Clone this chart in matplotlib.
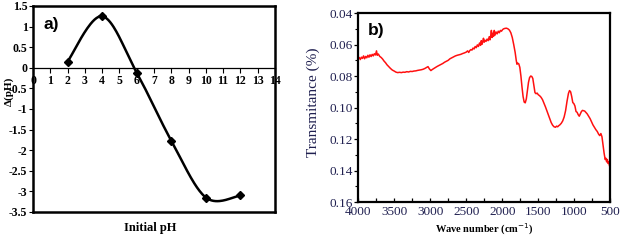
import numpy as np
import matplotlib
matplotlib.use("Agg")
import matplotlib.pyplot as plt
from matplotlib.ticker import MultipleLocator

# ---------------- Data ----------------
ph_initial = [2, 4, 6, 8, 10, 12]
delta_ph = [0.15, 1.25, -0.12, -1.77, -3.15, -3.10]

wavenumber = [4000, 3985, 3970, 3955, 3940, 3925, 3910, 3895, 3880, 3865, 3850, 3835, 3820, 3805,
              3790, 3775, 3760, 3745, 3735, 3720, 3700, 3680, 3660, 3640, 3620, 3600, 3575, 3550,
              3525, 3500, 3475, 3450, 3425, 3400, 3375, 3350, 3325, 3300, 3275, 3250, 3225, 3200,
              3175, 3150, 3125, 3100, 3075, 3050, 3030, 3010, 2990, 2970, 2950, 2925, 2900, 2875,
              2850, 2825, 2800, 2775, 2750, 2725, 2700, 2675, 2650, 2625, 2600, 2575, 2550, 2525,
              2500, 2480, 2465, 2450, 2435, 2420, 2405, 2390, 2375, 2360, 2345, 2330, 2315, 2300,
              2290, 2280, 2270, 2260, 2250, 2240, 2225, 2210, 2195, 2180, 2170, 2160, 2150, 2140,
              2130, 2120, 2110, 2100, 2085, 2070, 2055, 2040, 2025, 2010, 1995, 1980, 1960, 1940,
              1920, 1900, 1880, 1860, 1840, 1820, 1805, 1795, 1785, 1770, 1755, 1740, 1725, 1710,
              1695, 1680, 1665, 1650, 1635, 1620, 1605, 1590, 1575, 1560, 1545, 1530, 1515, 1500,
              1480, 1460, 1440, 1420, 1400, 1380, 1360, 1340, 1320, 1300, 1280, 1260, 1245, 1230,
              1215, 1200, 1180, 1160, 1140, 1120, 1100, 1080, 1065, 1050, 1035, 1020, 1005, 990,
              975, 960, 945, 930, 915, 900, 885, 870, 855, 840, 820, 800, 780, 760, 740, 720, 700,
              680, 660, 645, 630, 615, 600, 585, 570, 560, 550, 540, 530, 520, 510, 500]
transmittance = [0.0690, 0.0682, 0.0695, 0.0680, 0.0688, 0.0672, 0.0690, 0.0675, 0.0684, 0.0668,
                 0.0680, 0.0665, 0.0676, 0.0662, 0.0672, 0.0658, 0.0666, 0.0640, 0.0668, 0.0660,
                 0.0675, 0.0682, 0.0692, 0.0705, 0.0715, 0.0728, 0.0740, 0.0752, 0.0762, 0.0768,
                 0.0775, 0.0778, 0.0776, 0.0778, 0.0775, 0.0776, 0.0772, 0.0774, 0.0770, 0.0771,
                 0.0768, 0.0767, 0.0764, 0.0762, 0.0760, 0.0757, 0.0752, 0.0745, 0.0740, 0.0755,
                 0.0765, 0.0758, 0.0752, 0.0745, 0.0738, 0.0732, 0.0726, 0.0720, 0.0712, 0.0706,
                 0.0700, 0.0690, 0.0684, 0.0678, 0.0672, 0.0668, 0.0665, 0.0662, 0.0657, 0.0653,
                 0.0648, 0.0640, 0.0650, 0.0638, 0.0632, 0.0635, 0.0622, 0.0628, 0.0612, 0.0620,
                 0.0602, 0.0612, 0.0590, 0.0605, 0.0575, 0.0598, 0.0582, 0.0560, 0.0585, 0.0572,
                 0.0580, 0.0565, 0.0575, 0.0550, 0.0570, 0.0545, 0.0510, 0.0555, 0.0528, 0.0548,
                 0.0510, 0.0540, 0.0520, 0.0532, 0.0515, 0.0525, 0.0510, 0.0515, 0.0505, 0.0500,
                 0.0497, 0.0496, 0.0500, 0.0508, 0.0525, 0.0555, 0.0600, 0.0650, 0.0700, 0.0725,
                 0.0718, 0.0722, 0.0745, 0.0800, 0.0870, 0.0930, 0.0965, 0.0970, 0.0945, 0.0890,
                 0.0840, 0.0810, 0.0800, 0.0802, 0.0815, 0.0860, 0.0905, 0.0912, 0.0908, 0.0918,
                 0.0925, 0.0935, 0.0950, 0.0972, 0.0995, 0.1020, 0.1045, 0.1070, 0.1095, 0.1112,
                 0.1122, 0.1125, 0.1118, 0.1122, 0.1115, 0.1110, 0.1100, 0.1085, 0.1060, 0.1020,
                 0.0960, 0.0910, 0.0892, 0.0900, 0.0930, 0.0968, 0.0975, 0.0990, 0.1025, 0.1030,
                 0.1045, 0.1055, 0.1040, 0.1025, 0.1018, 0.1020, 0.1022, 0.1030, 0.1040, 0.1055,
                 0.1070, 0.1090, 0.1110, 0.1125, 0.1140, 0.1152, 0.1170, 0.1178, 0.1165, 0.1185,
                 0.1240, 0.1290, 0.1330, 0.1322, 0.1345, 0.1330, 0.1355, 0.1345, 0.1370, 0.1378]

ph_ticks = list(range(0, 15))
dph_ticks = [-3.5, -3, -2.5, -2, -1.5, -1, -0.5, 0, 0.5, 1, 1.5]
dph_ticklabels = ["-3.5", "-3", "-2.5", "-2", "-1.5", "-1", "-0.5", "0", "0.5", "1", "1.5"]
wn_ticks = [4000, 3500, 3000, 2500, 2000, 1500, 1000, 500]
tr_ticks = [0.04, 0.06, 0.08, 0.10, 0.12, 0.14, 0.16]


def excel_smooth(xs, ys, n=40):
    """Bezier smoothing like a spreadsheet 'smoothed line'."""
    P = np.column_stack([xs, ys]).astype(float)
    out = []
    m = len(P)
    t = np.linspace(0, 1, n)[:, None]
    for i in range(m - 1):
        p0 = P[i - 1] if i > 0 else P[i]
        p1, p2 = P[i], P[i + 1]
        p3 = P[i + 2] if i + 2 < m else P[i + 1]
        c1 = p1 + (p2 - p0) / 6.0
        c2 = p2 - (p3 - p1) / 6.0
        seg = ((1 - t) ** 3) * p1 + 3 * ((1 - t) ** 2) * t * c1 + 3 * (1 - t) * t ** 2 * c2 + t ** 3 * p2
        out.append(seg)
    out = np.vstack(out)
    return out[:, 0], out[:, 1]


serif = ["Liberation Serif", "DejaVu Serif"]
fig = plt.figure(figsize=(6.35, 2.47), dpi=100)

# ---------------- Panel a ----------------
ax1 = fig.add_axes([0.052, 0.142, 0.381, 0.834])
sx, sy = excel_smooth(ph_initial, delta_ph)
ax1.plot(sx, sy, color="black", lw=1.8, zorder=3)
ax1.plot(ph_initial, delta_ph, linestyle="none", marker="D", markersize=4.5, color="black", zorder=4)
ax1.set_xlim(0, 14)
ax1.set_ylim(-3.5, 1.5)
ax1.set_xticks(ph_ticks)
ax1.set_yticks(dph_ticks)
ax1.set_yticklabels(dph_ticklabels)
ax1.spines["bottom"].set_position(("data", 0))
ax1.spines["bottom"].set_linewidth(0.9)
for s in ["left", "top", "right"]:
    ax1.spines[s].set_linewidth(1.8)
ax1.plot([0, 1], [0, 0], transform=ax1.transAxes, color="black", lw=1.8, clip_on=False, zorder=5)
ax1.tick_params(axis="x", direction="out", length=3.5, width=0.8, pad=2)
ax1.tick_params(axis="y", direction="out", length=3, width=0.8, pad=1)
for lab in ax1.get_xticklabels() + ax1.get_yticklabels():
    lab.set_fontfamily(serif)
    lab.set_fontweight("bold")
    lab.set_fontsize(8.5)
ax1.text(0.0135, 0.63, "Δ(pH)", transform=fig.transFigure, rotation=90, ha="center", va="center",
         fontsize=8, fontweight="bold", family=serif)
ax1.text(0.237, 0.077, "Initial pH", transform=fig.transFigure, ha="center", va="center",
         fontsize=9, fontweight="bold", family=serif)
ax1.text(0.042, 0.945, "a)", transform=ax1.transAxes, ha="left", va="top",
         fontsize=12.5, fontweight="bold", family=["Liberation Sans", "DejaVu Sans"])

# ---------------- Panel b ----------------
navy = "#202050"
ax2 = fig.add_axes([0.564, 0.182, 0.397, 0.765])
ax2.plot(wavenumber, transmittance, color="#ff1010", lw=1.1)
ax2.set_xlim(4000, 500)
ax2.set_ylim(0.16, 0.04)
ax2.set_xticks(wn_ticks)
ax2.set_xticklabels([str(v) for v in wn_ticks])
ax2.set_yticks(tr_ticks)
ax2.set_yticklabels(["%.2f" % v for v in tr_ticks])
ax2.xaxis.set_minor_locator(MultipleLocator(250))
ax2.yaxis.set_minor_locator(MultipleLocator(0.01))
for s in ax2.spines.values():
    s.set_linewidth(1.6)
ax2.tick_params(axis="x", which="both", direction="in", length=3, width=0.9, pad=3)
ax2.tick_params(axis="y", which="major", direction="out", length=3, width=0.9, pad=1)
ax2.tick_params(axis="y", which="minor", direction="out", length=2, width=0.8)
for lab in ax2.get_xticklabels() + ax2.get_yticklabels():
    lab.set_fontfamily(serif)
    lab.set_fontsize(9.5)
    lab.set_color(navy)
ax2.text(0.493, 0.585, "Transmitance (%)", transform=fig.transFigure, rotation=90, ha="center",
         va="center", fontsize=11, color=navy, family=serif)
ax2.text(0.762, 0.07, "Wave number (cm$^{-1}$)", transform=fig.transFigure, ha="center", va="center",
         fontsize=7.5, fontweight="bold", family=serif)
ax2.text(0.04, 0.95, "b)", transform=ax2.transAxes, ha="left", va="top",
         fontsize=12.5, fontweight="bold", family=["Liberation Sans", "DejaVu Sans"])

fig.savefig("out.png", dpi=100)
